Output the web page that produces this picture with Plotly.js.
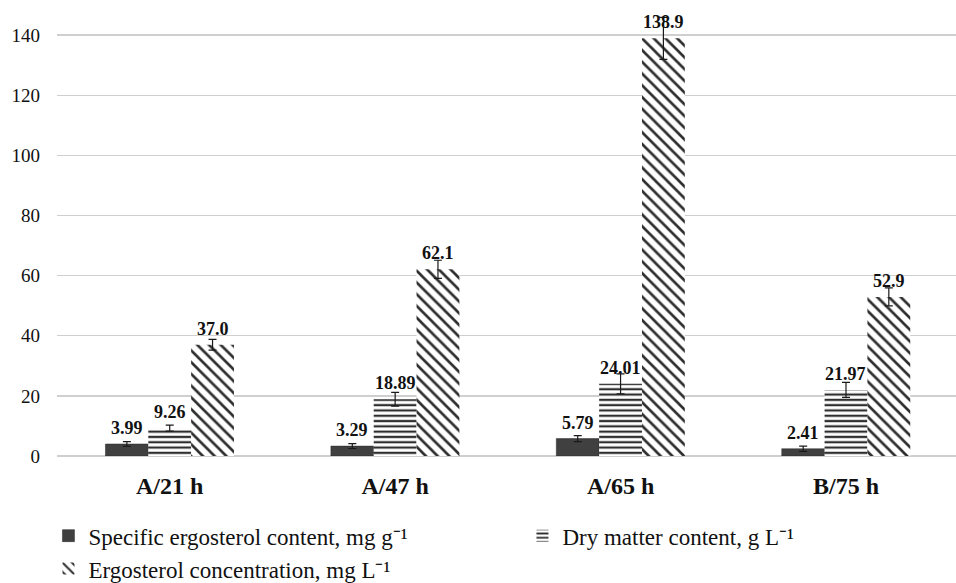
<!DOCTYPE html>
<html>
<head>
<meta charset="utf-8">
<script src="https://cdn.plot.ly/plotly-3.0.1.min.js"></script>
<style>html,body{margin:0;padding:0;background:#fff;}#chart{width:956px;height:583px;}</style>
</head>
<body>
<div id="chart"></div>
<script>
const categories = ['A/21 h', 'A/47 h', 'A/65 h', 'B/75 h'];
const specificErgosterol = [3.99, 3.29, 5.79, 2.41];
const specificErr = [0.8, 0.8, 1.0, 0.9];
const dryMatter = [9.26, 18.89, 24.01, 21.97];
const dryErr = [1.0, 2.3, 3.3, 2.5];
const ergosterolConc = [37.0, 62.1, 138.9, 52.9];
const ergoErr = [1.8, 3.0, 7.0, 3.0];
const seriesNames = [
  'Specific ergosterol content, mg g⁻¹',
  'Dry matter content, g L⁻¹',
  'Ergosterol concentration, mg L⁻¹'
];
const yTicks = [0, 20, 40, 60, 80, 100, 120, 140];

const serif = 'Liberation Serif';
const errStyle = (arr) => ({type: 'data', array: arr, visible: true, color: '#1a1a1a', thickness: 1.2, width: 4});

const traces = [
  {type: 'bar', x: categories, y: specificErgosterol, name: seriesNames[0],
   marker: {color: '#404040', line: {color: '#262626', width: 0.5}},
   error_y: errStyle(specificErr)},
  {type: 'bar', x: categories, y: dryMatter, name: seriesNames[1],
   marker: {color: '#ffffff', line: {width: 0},
     pattern: {shape: '-', fgcolor: '#2e2e2e', bgcolor: '#ffffff', size: 5.3, solidity: 0.42, fillmode: 'replace'}},
   error_y: errStyle(dryErr)},
  {type: 'bar', x: categories, y: ergosterolConc, name: seriesNames[2],
   marker: {color: '#ffffff', line: {width: 0},
     pattern: {shape: '\\', fgcolor: '#2e2e2e', bgcolor: '#ffffff', size: 8.3, solidity: 0.32, fillmode: 'replace'}},
   error_y: errStyle(ergoErr)}
];

const barW = 0.19;
const annotations = [];
const addLabels = (vals, offset, dec) => {
  vals.forEach((v, i) => {
    annotations.push({x: i + offset, y: v, xref: 'x', yref: 'y', text: v.toFixed(dec),
      showarrow: false, yanchor: 'bottom', xanchor: 'center', yshift: 4,
      font: {family: serif, size: 18, color: '#111', weight: 'bold'}});
  });
};
addLabels(specificErgosterol, -barW, 2);
addLabels(dryMatter, 0, 2);
addLabels(ergosterolConc, barW, 1);

const layout = {
  width: 956, height: 583,
  margin: {l: 57, r: 0, t: 5, b: 127, autoexpand: false},
  paper_bgcolor: '#ffffff', plot_bgcolor: '#ffffff',
  barmode: 'group', bargap: 0.43, bargroupgap: 0,
  font: {family: serif, color: '#111'},
  xaxis: {type: 'category', range: [-0.5, 3.488], showgrid: false, showline: false, zeroline: false,
    ticks: '', ticklabelstandoff: 13, automargin: false,
    tickfont: {family: serif, size: 24, color: '#111', weight: 'bold'}},
  yaxis: {range: [0, 150], tickvals: yTicks, ticktext: yTicks.map(String), showgrid: true,
    gridcolor: '#cfcfcf', gridwidth: 1.3, zeroline: true, zerolinecolor: '#cfcfcf', zerolinewidth: 1.3,
    showline: false, ticks: '', ticklabelstandoff: 16, automargin: false,
    tickfont: {family: serif, size: 19, color: '#111'}},
  showlegend: true,
  legend: {orientation: 'h', x: -0.0095, xanchor: 'left', y: -0.129, yanchor: 'top',
    entrywidth: 429, entrywidthmode: 'pixels', itemwidth: 30,
    font: {family: serif, size: 23, color: '#111'}, bgcolor: 'rgba(0,0,0,0)', traceorder: 'normal'},
  annotations: annotations
};

Plotly.newPlot('chart', traces, layout, {displayModeBar: false, staticPlot: true});
</script>
</body>
</html>
